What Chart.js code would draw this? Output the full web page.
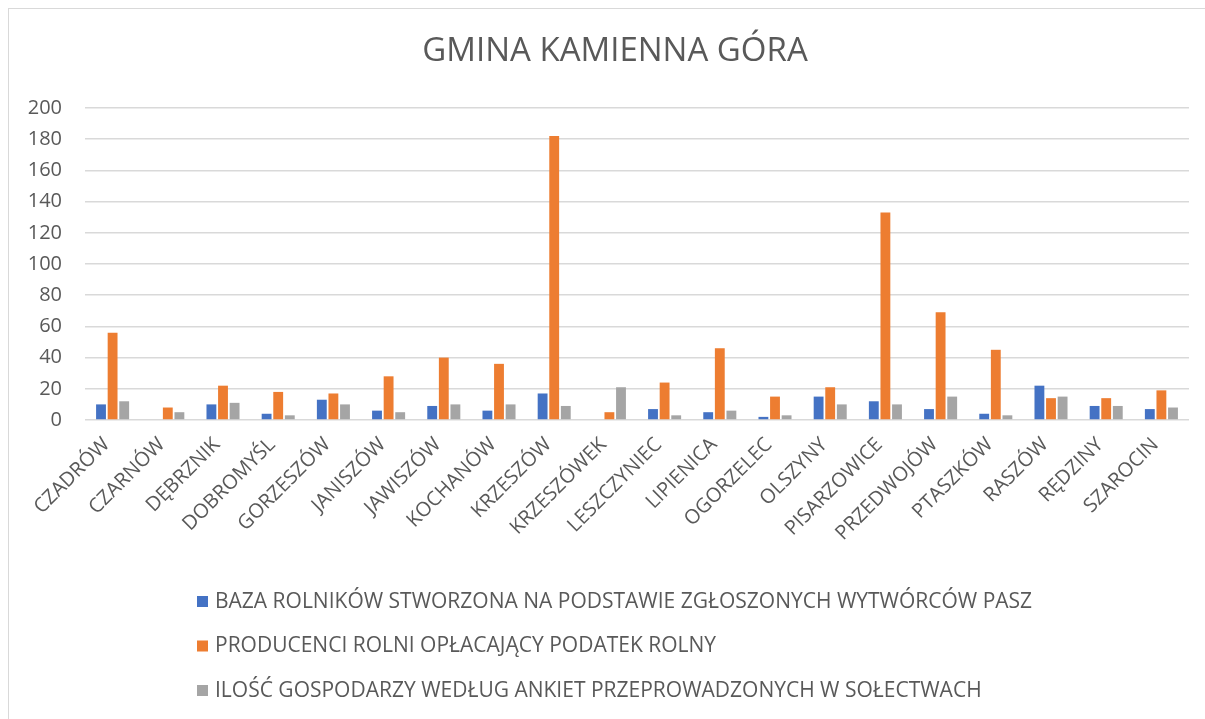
<!DOCTYPE html>
<html lang="pl">
<head>
    <meta charset="UTF-8">
    <title>Gmina Kamienna Góra</title>
    <script src="https://cdn.jsdelivr.net/npm/chart.js"></script>
    <style>
        html, body {
            margin: 0;
            padding: 0;
            background: #fff;
            overflow: hidden;
        }
        #frame {
            position: absolute;
            left: 8px;
            top: 8px;
            width: 1300px;
            height: 800px;
            border: 1.5px solid #d9d9d9;
            pointer-events: none;
        }
        #wrap {
            position: absolute;
            left: 0;
            top: 0;
            width: 1205px;
            height: 719px;
        }
    </style>
</head>
<body>
    <div id="wrap"><canvas id="chart"></canvas></div>
    <div id="frame"></div>

    <script>
        const chartTitle = 'GMINA KAMIENNA GÓRA';

        const categories = ['CZADRÓW', 'CZARNÓW', 'DĘBRZNIK', 'DOBROMYŚL', 'GORZESZÓW', 'JANISZÓW', 'JAWISZÓW',
            'KOCHANÓW', 'KRZESZÓW', 'KRZESZÓWEK', 'LESZCZYNIEC', 'LIPIENICA', 'OGORZELEC', 'OLSZYNY',
            'PISARZOWICE', 'PRZEDWOJÓW', 'PTASZKÓW', 'RASZÓW', 'RĘDZINY', 'SZAROCIN'];

        const seriesNames = [
            'BAZA ROLNIKÓW STWORZONA NA PODSTAWIE ZGŁOSZONYCH WYTWÓRCÓW PASZ',
            'PRODUCENCI ROLNI OPŁACAJĄCY PODATEK ROLNY',
            'ILOŚĆ GOSPODARZY WEDŁUG ANKIET PRZEPROWADZONYCH W SOŁECTWACH'
        ];

        const bazaRolnikow = [10, 0, 10, 4, 13, 6, 9, 6, 17, 0, 7, 5, 2, 15, 12, 7, 4, 22, 9, 7];
        const producenci = [56, 8, 22, 18, 17, 28, 40, 36, 182, 5, 24, 46, 15, 21, 133, 69, 45, 14, 14, 19];
        const ankiety = [12, 5, 11, 3, 10, 5, 10, 10, 9, 21, 3, 6, 3, 10, 10, 15, 3, 15, 9, 8];

        const yTicks = [0, 20, 40, 60, 80, 100, 120, 140, 160, 180, 200];

        const colors = ['#4472C4', '#ED7D31', '#A5A5A5'];
        const textColor = '#595959';
        const gridColor = '#d9d9d9';
        const fontFamily = '"Open Sans", sans-serif';

        // title + legend drawn by hand: Excel centres the title on the whole frame
        // and puts each legend entry on its own row, left aligned
        const excelDecor = {
            id: 'excelDecor',
            afterDraw(chart) {
                const ctx = chart.ctx;
                ctx.save();
                ctx.fillStyle = textColor;
                ctx.font = '33px ' + fontFamily;
                ctx.textAlign = 'center';
                ctx.textBaseline = 'middle';
                ctx.fillText(chartTitle, 615, 52);

                const startX = 197;
                const firstY = chart.chartArea.bottom + 182;
                const rowGap = 44.5;
                ctx.font = '21px ' + fontFamily;
                ctx.textAlign = 'left';
                chart.data.datasets.forEach((ds, i) => {
                    const y = firstY + i * rowGap;
                    ctx.fillStyle = ds.backgroundColor;
                    ctx.fillRect(startX, y - 6, 11, 11);
                    ctx.fillStyle = textColor;
                    ctx.fillText(ds.label, startX + 18, y);
                });
                ctx.restore();
            }
        };

        const ctx = document.getElementById('chart').getContext('2d');
        new Chart(ctx, {
            type: 'bar',
            data: {
                labels: categories,
                datasets: [
                    { label: seriesNames[0], data: bazaRolnikow, backgroundColor: colors[0] },
                    { label: seriesNames[1], data: producenci, backgroundColor: colors[1] },
                    { label: seriesNames[2], data: ankiety, backgroundColor: colors[2] }
                ]
            },
            options: {
                responsive: true,
                maintainAspectRatio: false,
                animation: false,
                datasets: {
                    bar: {
                        categoryPercentage: 0.63,
                        barPercentage: 0.85
                    }
                },
                layout: {
                    padding: { top: 108, left: 0, right: 16, bottom: 159 }
                },
                plugins: {
                    legend: { display: false },
                    tooltip: { enabled: false },
                    title: { display: false }
                },
                scales: {
                    x: {
                        grid: { display: false },
                        border: { display: false },
                        ticks: {
                            color: textColor,
                            font: { family: fontFamily, size: 20 },
                            minRotation: 45,
                            maxRotation: 45,
                            autoSkip: false,
                            padding: 5,
                            labelOffset: -6
                        },
                        afterFit(scale) { scale.height = 140; }
                    },
                    y: {
                        min: 0,
                        max: 200,
                        afterBuildTicks(scale) {
                            scale.ticks = yTicks.map(v => ({ value: v }));
                        },
                        grid: {
                            color: gridColor,
                            lineWidth: 1.5,
                            drawTicks: false
                        },
                        border: { display: false },
                        ticks: {
                            color: textColor,
                            font: { family: fontFamily, size: 20 },
                            padding: 23
                        },
                        afterFit(scale) { scale.width = 85; }
                    }
                }
            },
            plugins: [excelDecor]
        });
    </script>
</body>
</html>
